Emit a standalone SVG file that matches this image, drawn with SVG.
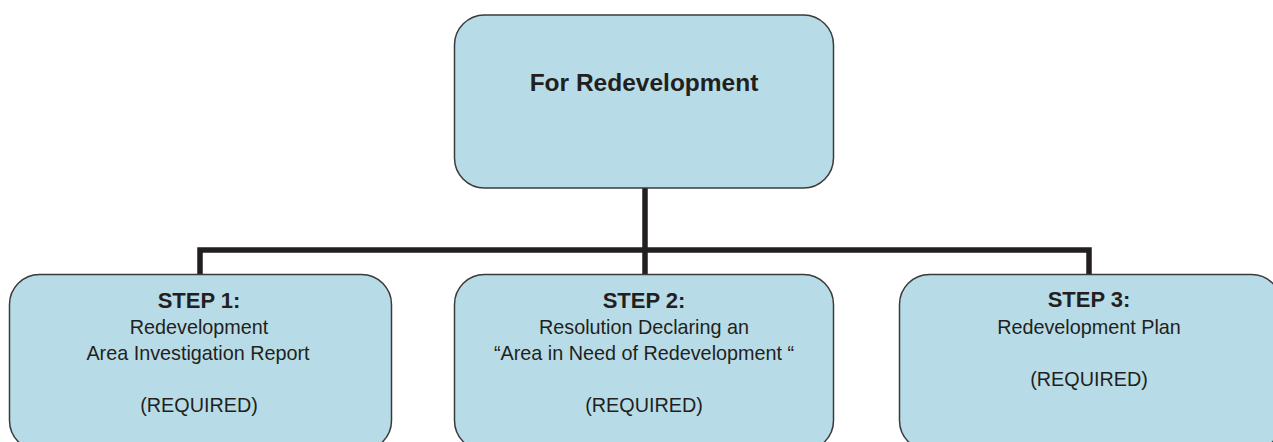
<svg xmlns="http://www.w3.org/2000/svg" width="1273" height="442" viewBox="0 0 1273 442">
<style>
.box{fill:#b8dce7;stroke:#3a3a3a;stroke-width:1.5}
.conn{fill:none;stroke:#231f20;stroke-width:5.5;stroke-linejoin:miter;stroke-linecap:butt}
text{font-family:"Liberation Sans",Arial,sans-serif;fill:#231f20;text-anchor:middle}
.title{font-size:24.5px;font-weight:bold}
.step{font-size:22px;font-weight:bold}
.body{font-size:19.8px}
</style>
<rect width="1273" height="442" fill="#ffffff"/>
<g id="connectors">
<path class="conn" d="M645 188 V250"/>
<path class="conn" d="M200 275 V250 H1089 V275"/>
<path class="conn" d="M645 250 V275"/>
</g>
<g id="node-top">
<rect class="box" x="454.5" y="15" width="379" height="173" rx="30" ry="30"/>
<text class="title" x="644" y="91">For Redevelopment</text>
</g>
<g id="node-step1">
<rect class="box" x="9.5" y="274.5" width="382" height="176" rx="30" ry="30"/>
<text class="step" x="199" y="307.5">STEP 1:</text>
<text class="body" x="199" y="334">Redevelopment</text>
<text class="body" x="198" y="360">Area Investigation Report</text>
<text class="body" x="199" y="412">(REQUIRED)</text>
</g>
<g id="node-step2">
<rect class="box" x="454.5" y="274.5" width="379" height="176" rx="30" ry="30"/>
<text class="step" x="644" y="307.5">STEP 2:</text>
<text class="body" x="644" y="334">Resolution Declaring an</text>
<text class="body" x="644" y="360">“Area in Need of Redevelopment “</text>
<text class="body" x="644" y="412">(REQUIRED)</text>
</g>
<g id="node-step3">
<rect class="box" x="899.5" y="274.5" width="382" height="176" rx="30" ry="30"/>
<text class="step" x="1089" y="307">STEP 3:</text>
<text class="body" x="1089" y="333.5">Redevelopment Plan</text>
<text class="body" x="1089" y="386">(REQUIRED)</text>
</g>
</svg>
